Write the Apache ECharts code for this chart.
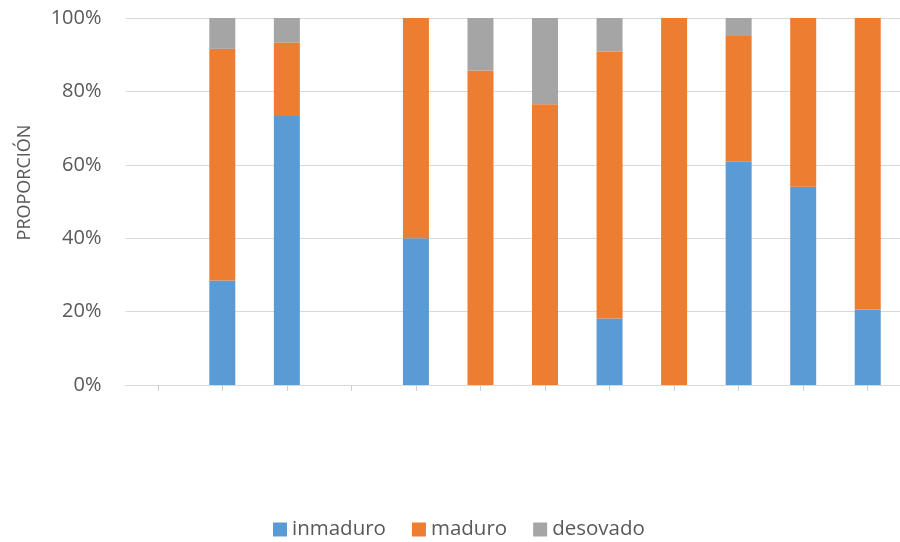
<!DOCTYPE html>
<html><head><meta charset="utf-8">
<script src="https://cdn.jsdelivr.net/npm/echarts@6/dist/echarts.min.js"></script>
<style>html,body{margin:0;padding:0;background:#fff}#c{width:900px;height:542px}</style>
</head><body><div id="c"></div>
<script>
const categories = ['1','2','3','4','5','6','7','8','9','10','11','12'];
const inmaduro = [null, 28.5, 73.3, null, 40.0, 0, 0, 18.1, 0, 60.8, 54.0, 20.6];
const maduro   = [null, 63.1, 20.0, null, 60.0, 85.7, 76.5, 72.7, 100, 34.3, 46.0, 79.4];
const desovado = [null, 8.4, 6.7, null, 0, 14.3, 23.5, 9.2, 0, 4.9, 0, 0];
const yTicks = [0, 20, 40, 60, 80, 100];

const font = 'Open Sans';
const chart = echarts.init(document.getElementById('c'));
chart.setOption({
  animation: false,
  textStyle: {fontFamily: font},
  grid: {left: 125.5, right: -5.5, top: 18, bottom: 157},
  legend: {
    top: 514, left: 268, itemWidth: 14, itemHeight: 14, itemGap: 26,
    icon: 'rect',
    textStyle: {fontFamily: font, fontSize: 20.5, color: '#595959'},
    data: ['inmaduro', 'maduro', 'desovado']
  },
  xAxis: {
    type: 'category', data: categories,
    axisLine: {lineStyle: {color: '#D9D9D9'}},
    axisTick: {show: true, interval: 0, alignWithLabel: true, length: 6, lineStyle: {color: '#D0D0D0'}},
    axisLabel: {show: true, interval: 0, formatter: () => ''}
  },
  yAxis: {
    type: 'value', min: 0, max: 100, interval: 20,
    name: 'PROPORCIÓN', nameLocation: 'middle', nameGap: 92, nameRotate: 90,
    nameTextStyle: {fontFamily: font, fontSize: 18, color: '#595959', padding: [0, 0, 0, 38]},
    axisLine: {show: false}, axisTick: {show: false},
    axisLabel: {margin: 24, fontFamily: font, fontSize: 20, color: '#595959',
      formatter: v => yTicks.includes(v) ? v + '%' : ''},
    splitLine: {lineStyle: {color: '#D9D9D9', width: 1}}
  },
  series: [
    {name: 'inmaduro', type: 'bar', stack: 's', data: inmaduro, barWidth: 26, itemStyle: {color: '#5B9BD5'}},
    {name: 'maduro', type: 'bar', stack: 's', data: maduro, barWidth: 26, itemStyle: {color: '#ED7D31'}},
    {name: 'desovado', type: 'bar', stack: 's', data: desovado, barWidth: 26, itemStyle: {color: '#A5A5A5'}}
  ]
});
</script></body></html>
